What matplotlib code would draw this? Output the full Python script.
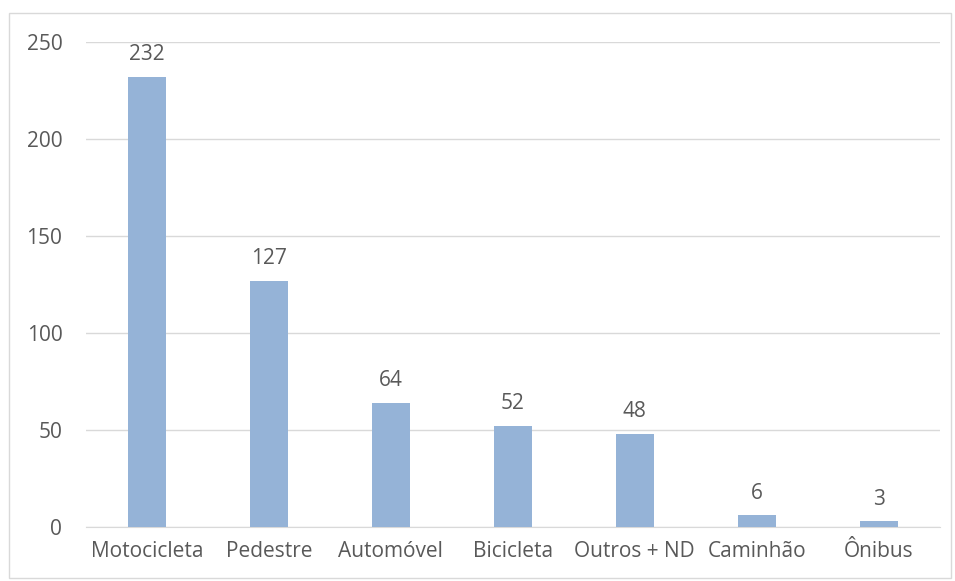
import matplotlib
matplotlib.use("Agg")
import matplotlib.pyplot as plt
from matplotlib.patches import Rectangle

categories = ["Motocicleta", "Pedestre", "Automóvel", "Bicicleta", "Outros + ND", "Caminhão", "Ônibus"]
values = [232, 127, 64, 52, 48, 6, 3]
yticks = [0, 50, 100, 150, 200, 250]

plt.rcParams['font.family'] = ['Open Sans', 'DejaVu Sans']
text_color = "#595959"

fig = plt.figure(figsize=(9.55, 5.81), dpi=100)
ax = fig.add_axes([0.090, 0.093, 0.894, 0.835])

x = list(range(len(categories)))
ax.bar(x, values, width=0.31, color="#95B3D7", zorder=3)
for xi, v in zip(x, values):
    ax.text(xi, v + 6, str(v), ha="center", va="bottom", fontsize=15, color=text_color)

ax.set_xlim(-0.5, len(categories) - 0.5)
ax.set_ylim(0, 250)
ax.set_yticks(yticks)
ax.set_xticks(x)
ax.set_xticklabels(categories)
ax.yaxis.grid(True, color="#D9D9D9", linewidth=1, zorder=0)
ax.tick_params(axis="both", length=0, labelsize=15, labelcolor=text_color)
ax.tick_params(axis="y", pad=17)
ax.tick_params(axis="x", pad=10)
for s in ["top", "right", "left"]:
    ax.spines[s].set_visible(False)
ax.spines["bottom"].set_color("#D9D9D9")

fig.patches.append(Rectangle((9 / 955, 1 - 578 / 581), 942 / 955, 565 / 581,
                             transform=fig.transFigure, fill=False,
                             edgecolor="#D9D9D9", linewidth=1))

fig.savefig("out.png", dpi=100)
